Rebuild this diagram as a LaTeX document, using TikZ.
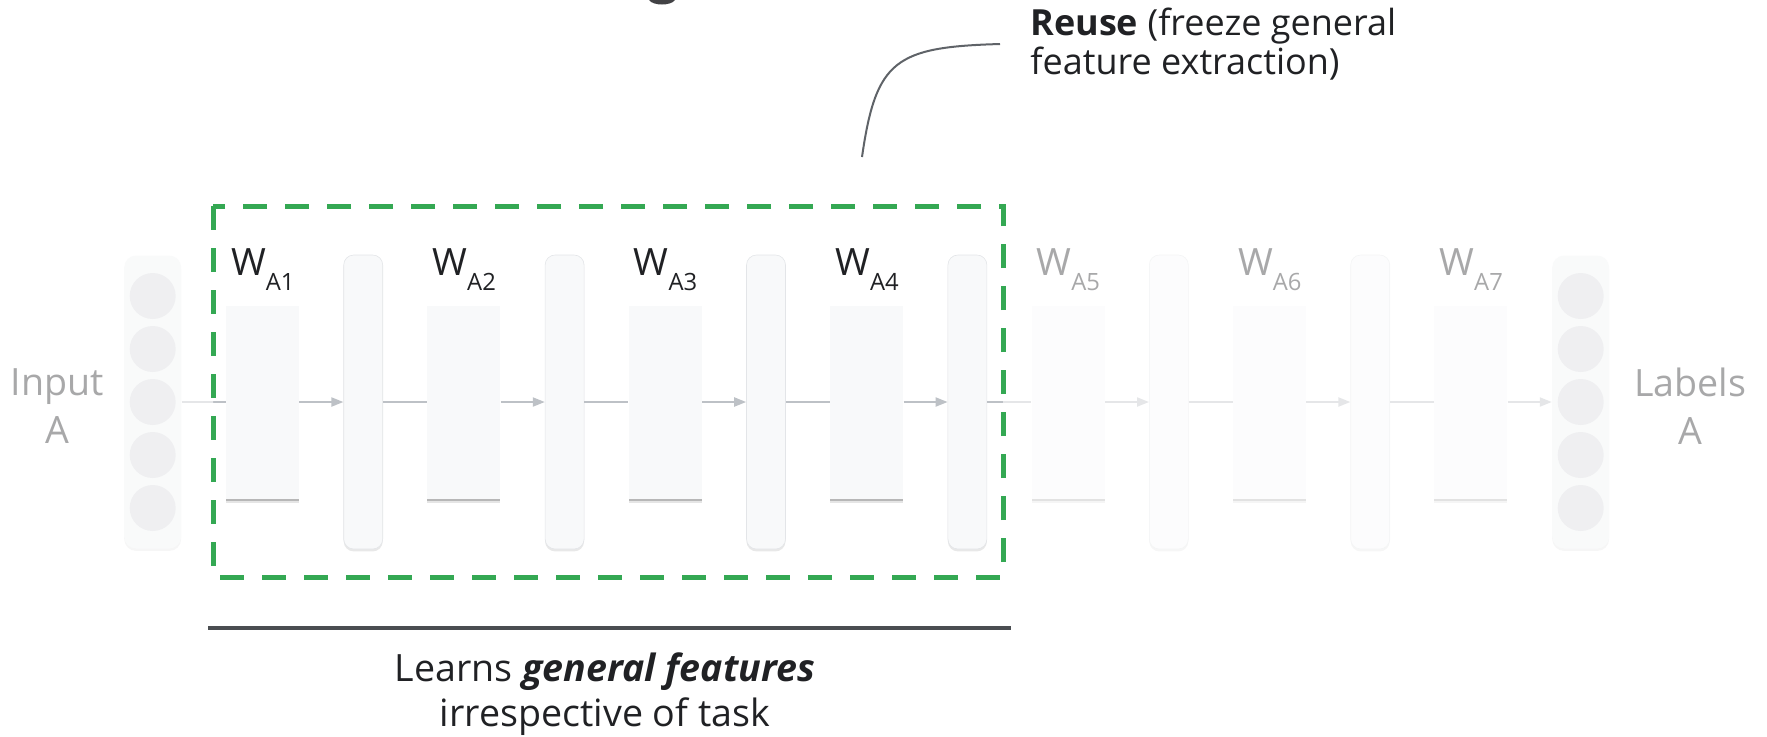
\documentclass[tikz,border=0pt]{standalone}
\usepackage{fontspec}
\setmainfont{Open Sans}
\usetikzlibrary{arrows.meta, positioning, shadows}

\definecolor{ink}{HTML}{202124}
\definecolor{cardfill}{HTML}{F8F9FA}
\definecolor{cardedge}{HTML}{E3E5E8}
\definecolor{colfill}{HTML}{F1F3F4}
\definecolor{unitfill}{HTML}{D6D8DB}
\definecolor{linkgray}{HTML}{BDC1C6}
\definecolor{frozen}{HTML}{34A853}
\definecolor{rulegray}{HTML}{4A4D51}
\definecolor{leadgray}{HTML}{5F6368}

\tikzset{
    weights/.style={rectangle, fill=cardfill, inner sep=0pt,
        minimum width=36.5pt, minimum height=96.5pt,
        drop shadow={shadow xshift=0pt, shadow yshift=-2.4pt, opacity=.10, fill=black},
        drop shadow={shadow xshift=0pt, shadow yshift=-1.2pt, opacity=.30, fill=black!70}},
    hidden/.style={rectangle, rounded corners=5pt, fill=cardfill, draw=cardedge,
        line width=.3pt, inner sep=0pt, minimum width=19.5pt, minimum height=147pt,
        drop shadow={shadow xshift=0pt, shadow yshift=-1.2pt, opacity=.15, fill=black!60}},
    column/.style={rectangle, rounded corners=6pt, fill=colfill, inner sep=0pt,
        minimum width=28.5pt, minimum height=146.5pt,
        drop shadow={shadow xshift=0pt, shadow yshift=-1.2pt, opacity=.15, fill=black!60}},
    unit/.style={circle, fill=unitfill, minimum size=23pt, inner sep=0pt},
    wlabel/.style={anchor=base west, inner sep=0pt, text=ink, font=\fontsize{18.8}{20}\selectfont},
    sidetext/.style={align=center, inner sep=0pt, text=ink, font=\fontsize{18.8}{24}\selectfont},
    link/.style={draw=linkgray, line width=1pt},
    flow/.style={link, -{Triangle[length=6pt, width=4.5pt]}}
}
\newcommand{\wsub}[1]{W\raisebox{-7.5pt}{\fontsize{11.9}{12}\selectfont #1}}

\begin{document}
\begin{tikzpicture}[x=0.5pt, y=-0.5pt, node distance=22pt]
        \useasboundingbox (0,0) rectangle (1767,736);

        % Capas del modelo
        \node[weights] (w1) at (262.5,402) {};
        \node[hidden, right=of w1] (h1) {};
        \node[weights, right=of h1] (w2) {};
        \node[hidden, right=of w2] (h2) {};
        \node[weights, right=of h2] (w3) {};
        \node[hidden, right=of w3] (h3) {};
        \node[weights, right=of h3] (w4) {};
        \node[hidden, right=of w4] (h4) {};
        \node[weights, right=of h4] (w5) {};
        \node[hidden, right=of w5] (h5) {};
        \node[weights, right=of h5] (w6) {};
        \node[hidden, right=of w6] (h6) {};
        \node[weights, right=of h6] (w7) {};

        % Entrada y salida
        \node[column, left=of w1] (inp) {};
        \node[column, right=of w7] (out) {};
        \foreach \k [evaluate=\k as \dy using (3-\k)*26.5] in {1,...,5} {
            \node[unit] (in\k) at ([yshift=\dy pt]inp.center) {};
            \node[unit] (out\k) at ([yshift=\dy pt]out.center) {};
        }
        \node[sidetext] (inlab) at (57,406) {Input\\A};
        \node[sidetext] (outlab) at (1690,406) {Labels\\A};

        % Pesos
        \node[wlabel] (l1) at ([xshift=2.5pt, yshift=15pt]w1.north west) {\wsub{A1}};
        \node[wlabel] (l2) at ([xshift=2.5pt, yshift=15pt]w2.north west) {\wsub{A2}};
        \node[wlabel] (l3) at ([xshift=2.5pt, yshift=15pt]w3.north west) {\wsub{A3}};
        \node[wlabel] (l4) at ([xshift=2.5pt, yshift=15pt]w4.north west) {\wsub{A4}};
        \node[wlabel] (l5) at ([xshift=2.5pt, yshift=15pt]w5.north west) {\wsub{A5}};
        \node[wlabel] (l6) at ([xshift=2.5pt, yshift=15pt]w6.north west) {\wsub{A6}};
        \node[wlabel] (l7) at ([xshift=2.5pt, yshift=15pt]w7.north west) {\wsub{A7}};

        % Conexiones
        \draw[link] (inp.east) -- (w1.west);
        \draw[flow] (w1.east) -- (h1.west);
        \draw[link] (h1.east) -- (w2.west);
        \draw[flow] (w2.east) -- (h2.west);
        \draw[link] (h2.east) -- (w3.west);
        \draw[flow] (w3.east) -- (h3.west);
        \draw[link] (h3.east) -- (w4.west);
        \draw[flow] (w4.east) -- (h4.west);
        \draw[link] (h4.east) -- (w5.west);
        \draw[flow] (w5.east) -- (h5.west);
        \draw[link] (h5.east) -- (w6.west);
        \draw[flow] (w6.east) -- (h6.west);
        \draw[link] (h6.east) -- (w7.west);
        \draw[flow] (w7.east) -- (out.west);

        % Zona congelada (el resto queda atenuado)
        \coordinate (fr-nw) at (213,206);
        \coordinate (fr-se) at (1003,577);
        \fill[white, fill opacity=.61, even odd rule] (0,238) rectangle (1767,568) (fr-nw) rectangle (fr-se);
        \draw[frozen, line width=2.5pt, dash pattern=on 12pt off 9pt] (fr-nw) rectangle (fr-se);

        % Nota superior
        \node[anchor=base west, align=left, inner sep=0pt, text=ink,
              font=\fontsize{18}{19.5}\selectfont] (reuse) at (1030,74)
              {\textbf{Reuse} (freeze general\\feature extraction)};
        \coordinate (lead-a) at (862,157);
        \coordinate (lead-b) at (1000,44);
        \draw[leadgray, line width=1pt] (lead-a) .. controls (876,60) and (895,47) .. (lead-b);

        % Nota inferior
        \coordinate (span-l) at (208,628);
        \coordinate (span-r) at (1011,628);
        \draw[rulegray, line width=2pt] (span-l) -- (span-r);
        \node[align=center, inner sep=0pt, text=ink, font=\fontsize{18.8}{22.5}\selectfont]
              (learns) at (605,694) {Learns \textbf{\textit{general features}}\\irrespective of task};

        % Titulo cortado arriba
        \fill[ink!85] (649,0) .. controls (653,6) and (671,6) .. (675,0) -- cycle;
    \end{tikzpicture}
\end{document}
